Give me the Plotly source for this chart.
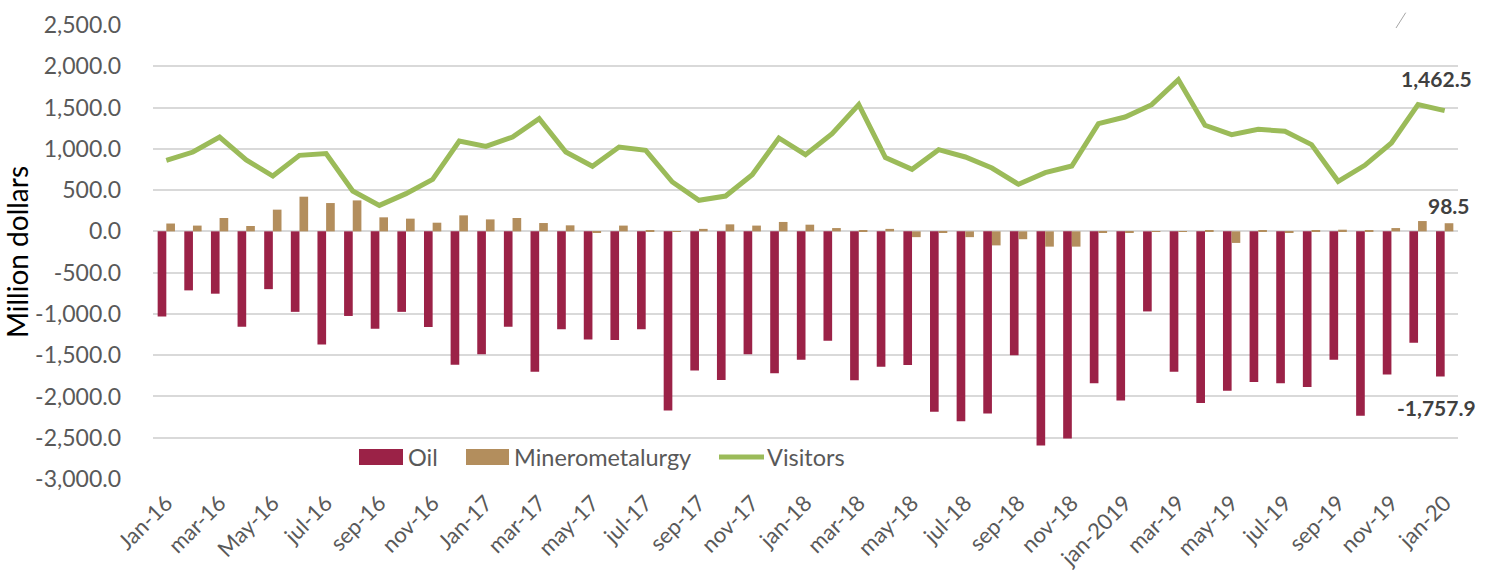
import plotly.graph_objects as go

# ---------------- data ----------------
months = [f"{y}-{m:02d}" for y in range(2016, 2020) for m in range(1, 13)] + ["2020-01"]

oil = [-1030, -715, -755, -1155, -700, -975, -1370, -1025, -1180, -975, -1160, -1615,
       -1490, -1155, -1700, -1185, -1310, -1315, -1185, -2170, -1685, -1800, -1490, -1720,
       -1555, -1325, -1805, -1640, -1620, -2185, -2300, -2205, -1500, -2595, -2510, -1840,
       -2050, -970, -1700, -2080, -1930, -1825, -1840, -1885, -1555, -2235, -1735, -1350,
       -1757.9]

minero = [95, 70, 162, 65, 263, 420, 343, 375, 170, 154, 105, 194,
          145, 162, 101, 73, -10, 70, 10, 2, 30, 85, 70, 114,
          81, 40, 8, 30, -70, -20, -70, -170, -95, -185, -185, -20,
          -15, -5, -5, 10, -140, 15, -15, 15, 20, 10, 40, 125,
          98.5]

visitors = [860, 961, 1143, 865, 670, 921, 942, 489, 315, 457, 630, 1095,
            1030, 1143, 1366, 961, 788, 1022, 982, 598, 376, 428, 687, 1131,
            930, 1184, 1535, 893, 752, 990, 901, 767, 570, 711, 792, 1305,
            1385, 1535, 1838, 1285, 1172, 1236, 1212, 1051, 606, 800, 1070, 1535,
            1462.5]

x_tick_labels = ["Jan-16", "mar-16", "May-16", "jul-16", "sep-16", "nov-16",
                 "Jan-17", "mar-17", "may-17", "jul-17", "sep-17", "nov-17",
                 "jan-18", "mar-18", "may-18", "jul-18", "sep-18", "nov-18",
                 "jan-2019", "mar-19", "may-19", "jul-19", "sep-19", "nov-19", "jan-20"]

y_tick_vals = [2500, 2000, 1500, 1000, 500, 0, -500, -1000, -1500, -2000, -2500, -3000]
y_tick_text = ["2,500.0", "2,000.0", "1,500.0", "1,000.0", "500.0", "0.0", "-500.0",
               "-1,000.0", "-1,500.0", "-2,000.0", "-2,500.0", "-3,000.0"]

series_names = ["Oil", "Minerometalurgy", "Visitors"]
label_oil, label_min, label_vis = "-1,757.9", "98.5", "1,462.5"

# ---------------- style ----------------
C_OIL = "#9B2247"
C_MIN = "#B38E5D"
C_VIS = "#9BBB59"
C_TXT = "#595959"
C_GRID = "#D9D9D9"
FONT = "Lato"

fig = go.Figure()
fig.add_trace(go.Bar(x=months, y=oil, name=series_names[0], marker_color=C_OIL,
                     marker_line_width=0, showlegend=False))
fig.add_trace(go.Bar(x=months, y=minero, name=series_names[1], marker_color=C_MIN,
                     marker_line_width=0, showlegend=False))
fig.add_trace(go.Scatter(x=months, y=visitors, name=series_names[2], mode="lines",
                         line=dict(color=C_VIS, width=5), showlegend=False))

fig.update_layout(
    width=1489, height=572, autosize=False,
    margin=dict(l=153, r=31, t=25, b=93, autoexpand=False),
    paper_bgcolor="white", plot_bgcolor="white",
    barmode="group", bargap=0.35, bargroupgap=0,
    font=dict(family=FONT, color=C_TXT, size=20),
)

fig.update_xaxes(
    type="category", categoryorder="array", categoryarray=months,
    range=[-0.5, len(months) - 0.5], automargin=False,
    tickmode="array", tickvals=months[::2], ticktext=x_tick_labels,
    tickangle=-45, tickfont=dict(size=22, color=C_TXT, family=FONT),
    showgrid=False, showline=False, ticks="", ticklabelstandoff=6,
)
fig.update_yaxes(
    range=[-3000, 2500], automargin=False,
    tickmode="array", tickvals=y_tick_vals, ticktext=y_tick_text,
    tickfont=dict(size=23, color=C_TXT, family=FONT),
    showgrid=True, gridcolor=C_GRID, gridwidth=1.5,
    zeroline=True, zerolinecolor=C_GRID, zerolinewidth=1.5,
    showline=False, ticks="", ticklabelstandoff=31,
    title=dict(text="Million dollars", font=dict(size=28, color="#000000", family=FONT),
               standoff=6),
)

# data labels for last point
last = months[-1]
fig.add_annotation(x=last, y=visitors[-1], text=f"<b>{label_vis}</b>", showarrow=False,
                   yshift=32, xshift=-8, font=dict(size=21, color="#404040", family=FONT))
fig.add_annotation(x=last, y=minero[-1], text=f"<b>{label_min}</b>", showarrow=False,
                   yshift=18, xshift=4, font=dict(size=21, color="#404040", family=FONT))
fig.add_annotation(x=last, y=oil[-1], text=f"<b>{label_oil}</b>", showarrow=False,
                   yshift=-31, xshift=-8, font=dict(size=21, color="#404040", family=FONT))

# ---------------- manual legend (paper coordinates) ----------------
px0, pw = 153, 1305
py_bottom, ph = 479, 454
def xp(px):
    return (px - px0) / pw
def yp(py):
    return (py_bottom - py) / ph

ly = 457
fig.add_shape(type="rect", xref="paper", yref="paper", x0=xp(359), x1=xp(403),
              y0=yp(465), y1=yp(449), fillcolor=C_OIL, line_width=0)
fig.add_annotation(xref="paper", yref="paper", x=xp(406), y=yp(ly), text=series_names[0],
                   showarrow=False, xanchor="left", yanchor="middle",
                   font=dict(size=23.5, color=C_TXT, family=FONT))
fig.add_shape(type="rect", xref="paper", yref="paper", x0=xp(466), x1=xp(509),
              y0=yp(465), y1=yp(449), fillcolor=C_MIN, line_width=0)
fig.add_annotation(xref="paper", yref="paper", x=xp(512), y=yp(ly), text=series_names[1],
                   showarrow=False, xanchor="left", yanchor="middle",
                   font=dict(size=23.5, color=C_TXT, family=FONT))
fig.add_shape(type="line", xref="paper", yref="paper", x0=xp(719), x1=xp(764),
              y0=yp(457), y1=yp(457), line=dict(color=C_VIS, width=5))
fig.add_annotation(xref="paper", yref="paper", x=xp(765), y=yp(ly), text=series_names[2],
                   showarrow=False, xanchor="left", yanchor="middle",
                   font=dict(size=23.5, color=C_TXT, family=FONT))

# small slash mark at top right
fig.add_shape(type="line", xref="paper", yref="paper", x0=xp(1396), x1=xp(1405.7),
              y0=yp(28), y1=yp(12.7), line=dict(color="#A6A6A6", width=1))

fig.write_html("out.html", config={"displayModeBar": False},
               post_script="document.body.style.margin='0';document.body.style.overflow='hidden';")
